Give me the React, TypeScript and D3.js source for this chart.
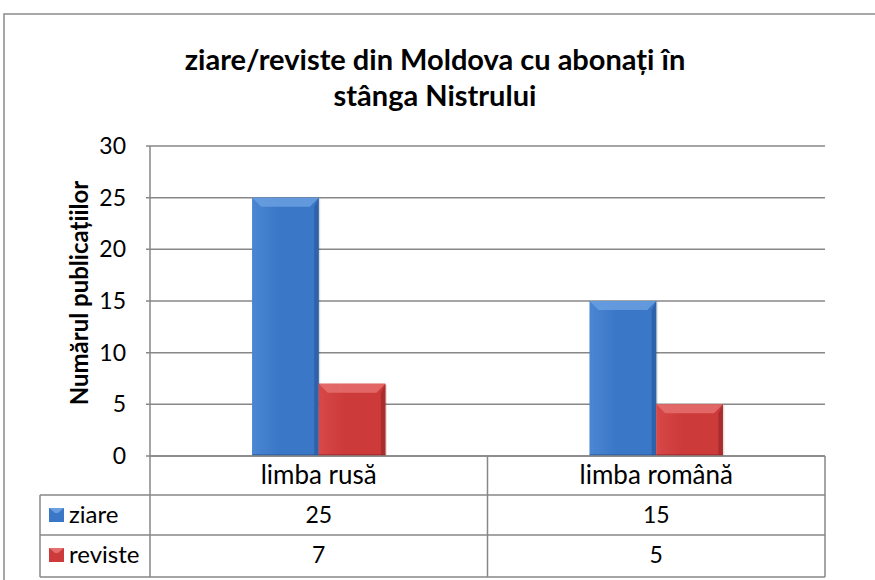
import * as React from 'react';
import * as d3 from 'd3';

const categories = ['limba rusă', 'limba română'];
const seriesNames = ['ziare', 'reviste'];
const ziare = [25, 15];
const reviste = [7, 5];
const yTicks = [0, 5, 10, 15, 20, 25, 30];
const titleLines = ['ziare/reviste din Moldova cu abonați în', 'stânga Nistrului'];
const yLabel = 'Numărul publicațiilor';

const palette = [
  { base: '#3a77c6', light: '#6a9fe0', dark: '#2a5a9c', mid: '#4a86d2' },
  { base: '#cc3a3a', light: '#e56f6f', dark: '#9c2626', mid: '#d84848' },
];

const W = 875;
const H = 580;
const margin = { left: 150, right: 825, top: 146, bottom: 456 };
const rowH = [39, 40, 42];
const legendLeft = 40;
const font = 'Lato, "Open Sans", sans-serif';
const gridColor = '#878787';
const textSize = 23;

const Bar: React.FC<{ x: number; y: number; w: number; h: number; c: typeof palette[0]; id: string }> = ({ x, y, w, h, c, id }) => {
  const b = Math.min(9, h / 2);
  return (
    <g>
      <rect x={x + 1.5} y={y + 1} width={w} height={h - 1} fill="#000" opacity={0.12} />
      <rect x={x} y={y} width={w} height={h} fill={`url(#${id})`} />
      <polygon points={`${x},${y} ${x + w},${y} ${x + w - b},${y + b} ${x + b},${y + b}`} fill={c.light} opacity={0.85} />
      <polygon points={`${x},${y} ${x + b * 0.5},${y + b} ${x + b * 0.5},${y + h} ${x},${y + h}`} fill={c.mid} opacity={0.5} />
      <polygon points={`${x + w},${y} ${x + w - b * 0.5},${y + b} ${x + w - b * 0.5},${y + h} ${x + w},${y + h}`} fill={c.dark} opacity={0.7} />
      <rect x={x} y={y + h - 2} width={w} height={2} fill={c.dark} opacity={0.6} />
    </g>
  );
};

const App: React.FC = () => {
  const x0 = d3.scaleBand<string>().domain(categories).range([margin.left, margin.right]).padding(0);
  const groupW = x0.bandwidth() * 0.395;
  const x1 = d3.scaleBand<string>().domain(seriesNames).range([0, groupW]).padding(0);
  const y = d3.scaleLinear().domain([0, 30]).range([margin.bottom, margin.top]);
  const values = [ziare, reviste];

  const rowTops = [margin.bottom, margin.bottom + rowH[0], margin.bottom + rowH[0] + rowH[1]];
  const tableBottom = margin.bottom + rowH[0] + rowH[1] + rowH[2];

  return (
    <svg width={W} height={H} style={{ position: 'absolute', left: 0, top: 0 }}>
      <defs>
        {palette.map((c, i) => (
          <linearGradient key={i} id={`g${i}`} x1="0" x2="1" y1="0" y2="0">
            <stop offset="0" stopColor={c.mid} />
            <stop offset="0.4" stopColor={c.base} />
            <stop offset="1" stopColor={c.base} />
          </linearGradient>
        ))}
      </defs>
      <rect x={0} y={0} width={W} height={H} fill="#fff" />
      <rect x={4} y={14} width={W + 20} height={H + 20} fill="#fff" stroke="#8a8a8a" strokeWidth={1.5} />

      {titleLines.map((t, i) => (
        <text key={i} x={435} y={70 + i * 36} textAnchor="middle" fontFamily={font} fontWeight="bold" fontSize={29} fill="#000">
          {t}
        </text>
      ))}

      <text
        transform={`translate(88,${293}) rotate(-90)`}
        textAnchor="middle"
        fontFamily={font}
        fontWeight="bold"
        fontSize={24}
        fill="#000"
      >
        {yLabel}
      </text>

      {/* gridlines and y axis */}
      {yTicks.map((t) => (
        <g key={t}>
          <line x1={margin.left - 4} x2={margin.right} y1={y(t)} y2={y(t)} stroke={gridColor} strokeWidth={1.5} />
          <text x={126} y={y(t) + 8} textAnchor="end" fontFamily={font} fontSize={textSize} fill="#000">
            {t}
          </text>
        </g>
      ))}
      <line x1={margin.left} x2={margin.left} y1={margin.top} y2={tableBottom} stroke={gridColor} strokeWidth={1.5} />

      {/* bars */}
      {categories.map((cat, ci) =>
        seriesNames.map((s, si) => {
          const bx = (x0(cat) ?? 0) + (x0.bandwidth() - groupW) / 2 + (x1(s) ?? 0);
          const v = values[si][ci];
          return (
            <Bar key={cat + s} x={bx} y={y(v)} w={x1.bandwidth()} h={y(0) - y(v)} c={palette[si]} id={`g${si}`} />
          );
        })
      )}

      {/* data table */}
      <line x1={margin.left} x2={margin.right} y1={margin.bottom} y2={margin.bottom} stroke={gridColor} strokeWidth={1.5} />
      {[rowTops[1], rowTops[2], tableBottom].map((ry, i) => (
        <line key={i} x1={legendLeft} x2={margin.right} y1={ry} y2={ry} stroke={gridColor} strokeWidth={1.5} />
      ))}
      <line x1={legendLeft} x2={legendLeft} y1={rowTops[1]} y2={tableBottom} stroke={gridColor} strokeWidth={1.5} />
      {categories.map((cat) => (
        <line
          key={cat}
          x1={(x0(cat) ?? 0) + x0.bandwidth()}
          x2={(x0(cat) ?? 0) + x0.bandwidth()}
          y1={margin.bottom}
          y2={tableBottom}
          stroke={gridColor}
          strokeWidth={1.5}
        />
      ))}
      {categories.map((cat) => (
        <text
          key={cat}
          x={(x0(cat) ?? 0) + x0.bandwidth() / 2}
          y={rowTops[0] + 28}
          textAnchor="middle"
          fontFamily={font}
          fontSize={26}
          fill="#000"
        >
          {cat}
        </text>
      ))}
      {seriesNames.map((s, si) => (
        <g key={s}>
          <rect x={49} y={rowTops[si + 1] + 13} width={15} height={14} fill={palette[si].base} />
          <polygon
            points={`49,${rowTops[si + 1] + 13} 64,${rowTops[si + 1] + 13} 58,${rowTops[si + 1] + 18} 55,${rowTops[si + 1] + 18}`}
            fill={palette[si].light}
          />
          <text x={69} y={rowTops[si + 1] + 28} fontFamily={font} fontSize={24} fill="#000">
            {s}
          </text>
          {categories.map((cat, ci) => (
            <text
              key={cat}
              x={(x0(cat) ?? 0) + x0.bandwidth() / 2}
              y={rowTops[si + 1] + 28}
              textAnchor="middle"
              fontFamily={font}
              fontSize={textSize}
              fill="#000"
            >
              {values[si][ci]}
            </text>
          ))}
        </g>
      ))}
    </svg>
  );
};

export default App;
